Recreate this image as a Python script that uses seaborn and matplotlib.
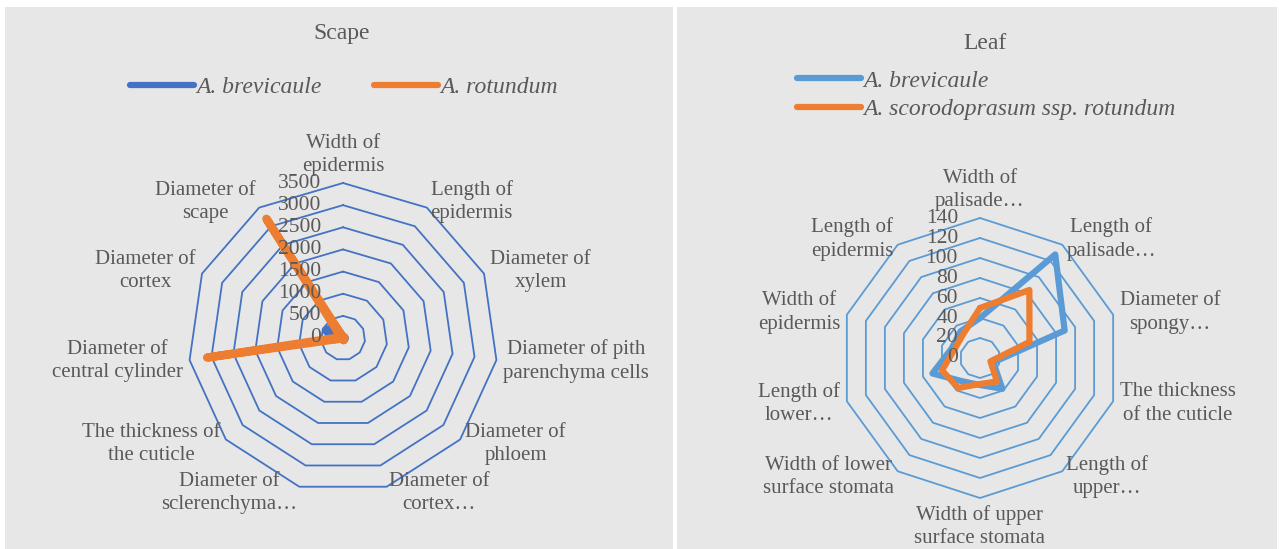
import numpy as np
import pandas as pd
import seaborn as sns
import matplotlib
matplotlib.use("Agg")
import matplotlib.pyplot as plt
from matplotlib.patches import Rectangle
from matplotlib.lines import Line2D
import matplotlib.transforms as mtransforms

# ---------------- data ----------------
scape_categories = ["Width of\nepidermis", "Length of\nepidermis", "Diameter of\nxylem",
                    "Diameter of pith\nparenchyma cells", "Diameter of\nphloem",
                    "Diameter of\ncortex…", "Diameter of\nsclerenchyma…",
                    "The thickness of\nthe cuticle", "Diameter of\ncentral cylinder",
                    "Diameter of\ncortex", "Diameter of\nscape"]
scape_brevicaule = [20, 30, 30, 40, 25, 50, 25, 10, 200, 420, 300]
scape_rotundum = [15, 25, 25, 35, 25, 50, 20, 10, 3100, 50, 3200]
scape_ticks = [0, 500, 1000, 1500, 2000, 2500, 3000, 3500]

leaf_categories = ["Width of\npalisade…", "Length of\npalisade…", "Diameter of\nspongy…",
                   "The thickness\nof the cuticle", "Length of\nupper…",
                   "Width of upper\nsurface stomata", "Width of lower\nsurface stomata",
                   "Length of\nlower…", "Width of\nepidermis", "Length of\nepidermis"]
leaf_brevicaule = [40, 128, 89, 14, 38, 27, 29, 50, 30, 33]
leaf_rotundum = [50, 84, 52, 11, 29, 26, 37, 40, 27, 29]
leaf_ticks = [0, 20, 40, 60, 80, 100, 120, 140]

scape_series = ["A. brevicaule", "A. rotundum"]
leaf_series = ["A. brevicaule", "A. scorodoprasum ssp. rotundum"]

# ---------------- style ----------------
sns.set_theme(style="white")
plt.rcParams['font.family'] = ['Liberation Serif', 'DejaVu Sans']
TXT = '#595959'
ORANGE = '#ED7D31'
BLUE_L = '#4472C4'
BLUE_R = '#5B9BD5'
FS = 15
FS_TICK = 15.5
FS_LEG = 17
FS_TITLE = 17

W, H = 1279, 549
fig = plt.figure(figsize=(W / 100, H / 100), dpi=100, facecolor='white')

# panel backgrounds
for x0, x1 in [(5, 673), (677, 1277)]:
    fig.add_artist(Rectangle((x0 / W, 0), (x1 - x0) / W, (H - 7) / H,
                             transform=fig.transFigure, facecolor='#e7e7e7',
                             edgecolor='none', zorder=-10))


def radar(cx, cy, R, categories, s1, s2, ticks, gridcol, c1, lw1, lw2, label_off):
    ax = fig.add_axes([(cx - R) / W, (H - cy - R) / H, 2 * R / W, 2 * R / H],
                      projection='polar')
    ax.set_theta_zero_location('N')
    ax.set_theta_direction(-1)
    ax.set_ylim(0, ticks[-1])
    ax.axis('off')
    n = len(categories)
    theta = np.arange(n) * 2 * np.pi / n
    th_closed = np.append(theta, 2 * np.pi)
    # polygon gridlines
    for t in ticks[1:]:
        ax.plot(th_closed, [t] * (n + 1), color=gridcol, lw=1.3, zorder=1, clip_on=False)
    # series
    df = pd.DataFrame({'theta': np.concatenate([th_closed, th_closed]),
                       'value': list(s1) + [s1[0]] + list(s2) + [s2[0]],
                       'series': ['a'] * (n + 1) + ['b'] * (n + 1)})
    sns.lineplot(data=df[df.series == 'a'], x='theta', y='value', sort=False,
                 estimator=None, color=c1, lw=lw1, ax=ax, zorder=3)
    sns.lineplot(data=df[df.series == 'b'], x='theta', y='value', sort=False,
                 estimator=None, color=ORANGE, lw=lw2, ax=ax, zorder=4)
    for ln in ax.lines:
        ln.set_clip_on(False)
        ln.set_solid_joinstyle('round')
        ln.set_solid_capstyle('round')
    # tick labels
    off = mtransforms.offset_copy(ax.transData, fig=fig, x=-22, y=0, units='dots')
    for t in ticks:
        ax.text(0, t, str(t), transform=off, ha='right', va='center',
                fontsize=FS_TICK, color=TXT, zorder=5)
    # category labels
    for th, lab in zip(theta, categories):
        s, c = np.sin(th), np.cos(th)
        if abs(s) < 0.2:
            ha = 'center'
            va = 'bottom' if c > 0 else 'top'
        else:
            ha = 'left' if s > 0 else 'right'
            va = 'center'
        ax.annotate(lab, xy=(th, ticks[-1]), xytext=(label_off * s, label_off * c),
                    textcoords='offset points', ha=ha, va=va, multialignment='center',
                    fontsize=FS, color=TXT, annotation_clip=False, linespacing=1.3)
    return ax


radar(343, 338, 155, scape_categories, scape_brevicaule, scape_rotundum, scape_ticks,
      BLUE_L, BLUE_L, 6, 6, 5)
radar(980, 358, 140, leaf_categories, leaf_brevicaule, leaf_rotundum, leaf_ticks,
      BLUE_R, BLUE_R, 4.5, 4.5, 5)

# titles
fig.text(342 / W, 1 - 34 / H, "Scape", ha='center', va='center', fontsize=FS_TITLE, color=TXT)
fig.text(985 / W, 1 - 44 / H, "Leaf", ha='center', va='center', fontsize=FS_TITLE, color=TXT)

# legends
h1 = [Line2D([], [], color=BLUE_L, lw=4.5, solid_capstyle='round'),
      Line2D([], [], color=ORANGE, lw=4.5, solid_capstyle='round')]
fig.legend(h1, scape_series, loc='center', bbox_to_anchor=(344 / W, 1 - 87 / H), ncol=2,
           frameon=False, handlelength=2.7, handletextpad=0.1, columnspacing=2.2,
           prop={'style': 'italic', 'size': FS_LEG}, labelcolor=TXT, borderpad=0)
h2 = [Line2D([], [], color=BLUE_R, lw=4.5, solid_capstyle='round'),
      Line2D([], [], color=ORANGE, lw=4.5, solid_capstyle='round')]
fig.legend(h2, leaf_series, loc='upper left', bbox_to_anchor=(797 / W, 1 - 70 / H), ncol=1,
           frameon=False, handlelength=2.7, handletextpad=0.1, labelspacing=0.3,
           prop={'style': 'italic', 'size': FS_LEG}, labelcolor=TXT, borderpad=0,
           borderaxespad=0)

fig.savefig('out.png', dpi=100, facecolor='white')
